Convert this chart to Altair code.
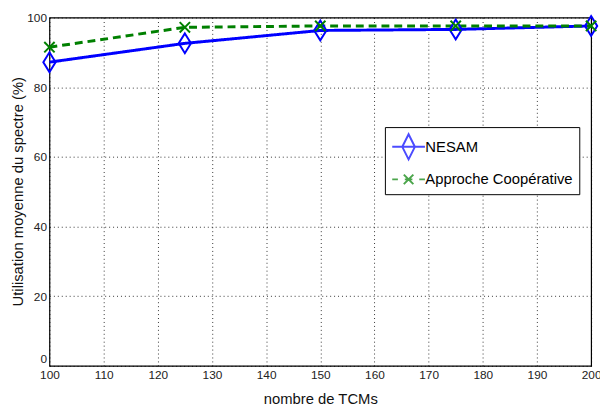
import altair as alt
import pandas as pd

tcms = [100, 125, 150, 175, 200]
nesam = [87.2, 92.6, 96.3, 96.6, 97.6]
coop = [91.5, 97.2, 97.6, 97.6, 97.6]
series_names = ["NESAM", "Approche Coopérative"]
x_ticks = [100, 110, 120, 130, 140, 150, 160, 170, 180, 190, 200]
y_ticks = [0, 20, 40, 60, 80, 100]

rows = []
for name, vals in zip(series_names, [nesam, coop]):
    for t, v in zip(tcms, vals):
        rows.append({"tcm": t, "util": v, "serie": name})
df = pd.DataFrame(rows)

colors = ["#0000ff", "#008000"]
font = "Liberation Sans"

x = alt.X("tcm:Q", scale=alt.Scale(domain=[100, 200], nice=False),
          axis=alt.Axis(values=x_ticks, title="nombre de TCMs", format="d"))
y = alt.Y("util:Q", scale=alt.Scale(domain=[0, 100], nice=False),
          axis=alt.Axis(values=y_ticks, title="Utilisation moyenne du spectre (%)",
                        titleX=-32, titleY=176, titleAngle=-90, titleAlign="center",
                        titleBaseline="middle",
                        labelBaseline={"condition": {"test": "datum.value === 0", "value": "bottom"},
                                       "value": "middle"}))
color = alt.Color("serie:N", scale=alt.Scale(domain=series_names, range=colors), legend=None)

base = alt.Chart(df)

lines = base.mark_line(strokeWidth=3).encode(
    x=x, y=y, color=color,
    strokeDash=alt.StrokeDash("serie:N", scale=alt.Scale(domain=series_names, range=[[1, 0], [8, 5]]), legend=None),
)

diamond = "M0,-1L0.62,0L0,1L-0.62,0Z"
xmark = "M-1,-1L1,1M1,-1L-1,1"
points = base.mark_point(filled=False, strokeWidth=2, opacity=1).encode(
    x=x, y=y,
    stroke=alt.Stroke("serie:N", scale=alt.Scale(domain=series_names, range=colors), legend=None),
    shape=alt.Shape("serie:N", scale=alt.Scale(domain=series_names, range=[diamond, xmark]), legend=None),
    size=alt.Size("serie:N", scale=alt.Scale(domain=series_names, range=[400, 110]), legend=None),
)

leg_nesam = "M-1.3,0L1.3,0M0,-1L0.5,0L0,1L-0.5,0Z"
leg_coop = "M-1.3,0L-0.85,0M-0.3,0L0.3,0M0.85,0L1.3,0M-0.38,-0.38L0.38,0.38M0.38,-0.38L-0.38,0.38"
leg_props = dict(title=None, orient="none", legendX=340, legendY=111,
                 symbolSize=650, symbolStrokeWidth=2,
                 labelFont=font, labelFontSize=15, labelColor="#000",
                 strokeColor="#000", fillColor="#fff",
                 padding=6, rowPadding=2, symbolOffset=4,
                 labelOffset=3, cornerRadius=0)
legend_layer = base.transform_filter("false").mark_point(filled=False).encode(
    x=x, y=y,
    shape=alt.Shape("serie:N",
                    scale=alt.Scale(domain=series_names, range=[leg_nesam, leg_coop]),
                    legend=alt.Legend(**leg_props)),
    stroke=alt.Stroke("serie:N", scale=alt.Scale(domain=series_names, range=colors),
                      legend=alt.Legend(**leg_props)),
)

chart = alt.layer(lines, points, legend_layer).resolve_scale(
    shape="independent", size="independent", stroke="independent"
).properties(
    width=549, height=353,
    autosize="none",
    padding={"left": 42, "top": 7, "right": 9, "bottom": 40},
).configure_view(stroke="#000", strokeWidth=1.2).configure_axis(
    grid=True, gridColor="#000", gridDash=[1, 3], gridWidth=1, gridOpacity=0.8,
    ticks=False, domain=False, labelFlush=False,
    labelFont=font, labelFontSize=12, labelColor="#222",
    titleFont=font, titleFontSize=15, titleFontWeight="normal", titleColor="#111",
).configure_axisX(labelPadding=4, titlePadding=11).configure_axisY(labelPadding=3)

chart.save("out.html", embed_options={"renderer": "svg", "actions": False})
